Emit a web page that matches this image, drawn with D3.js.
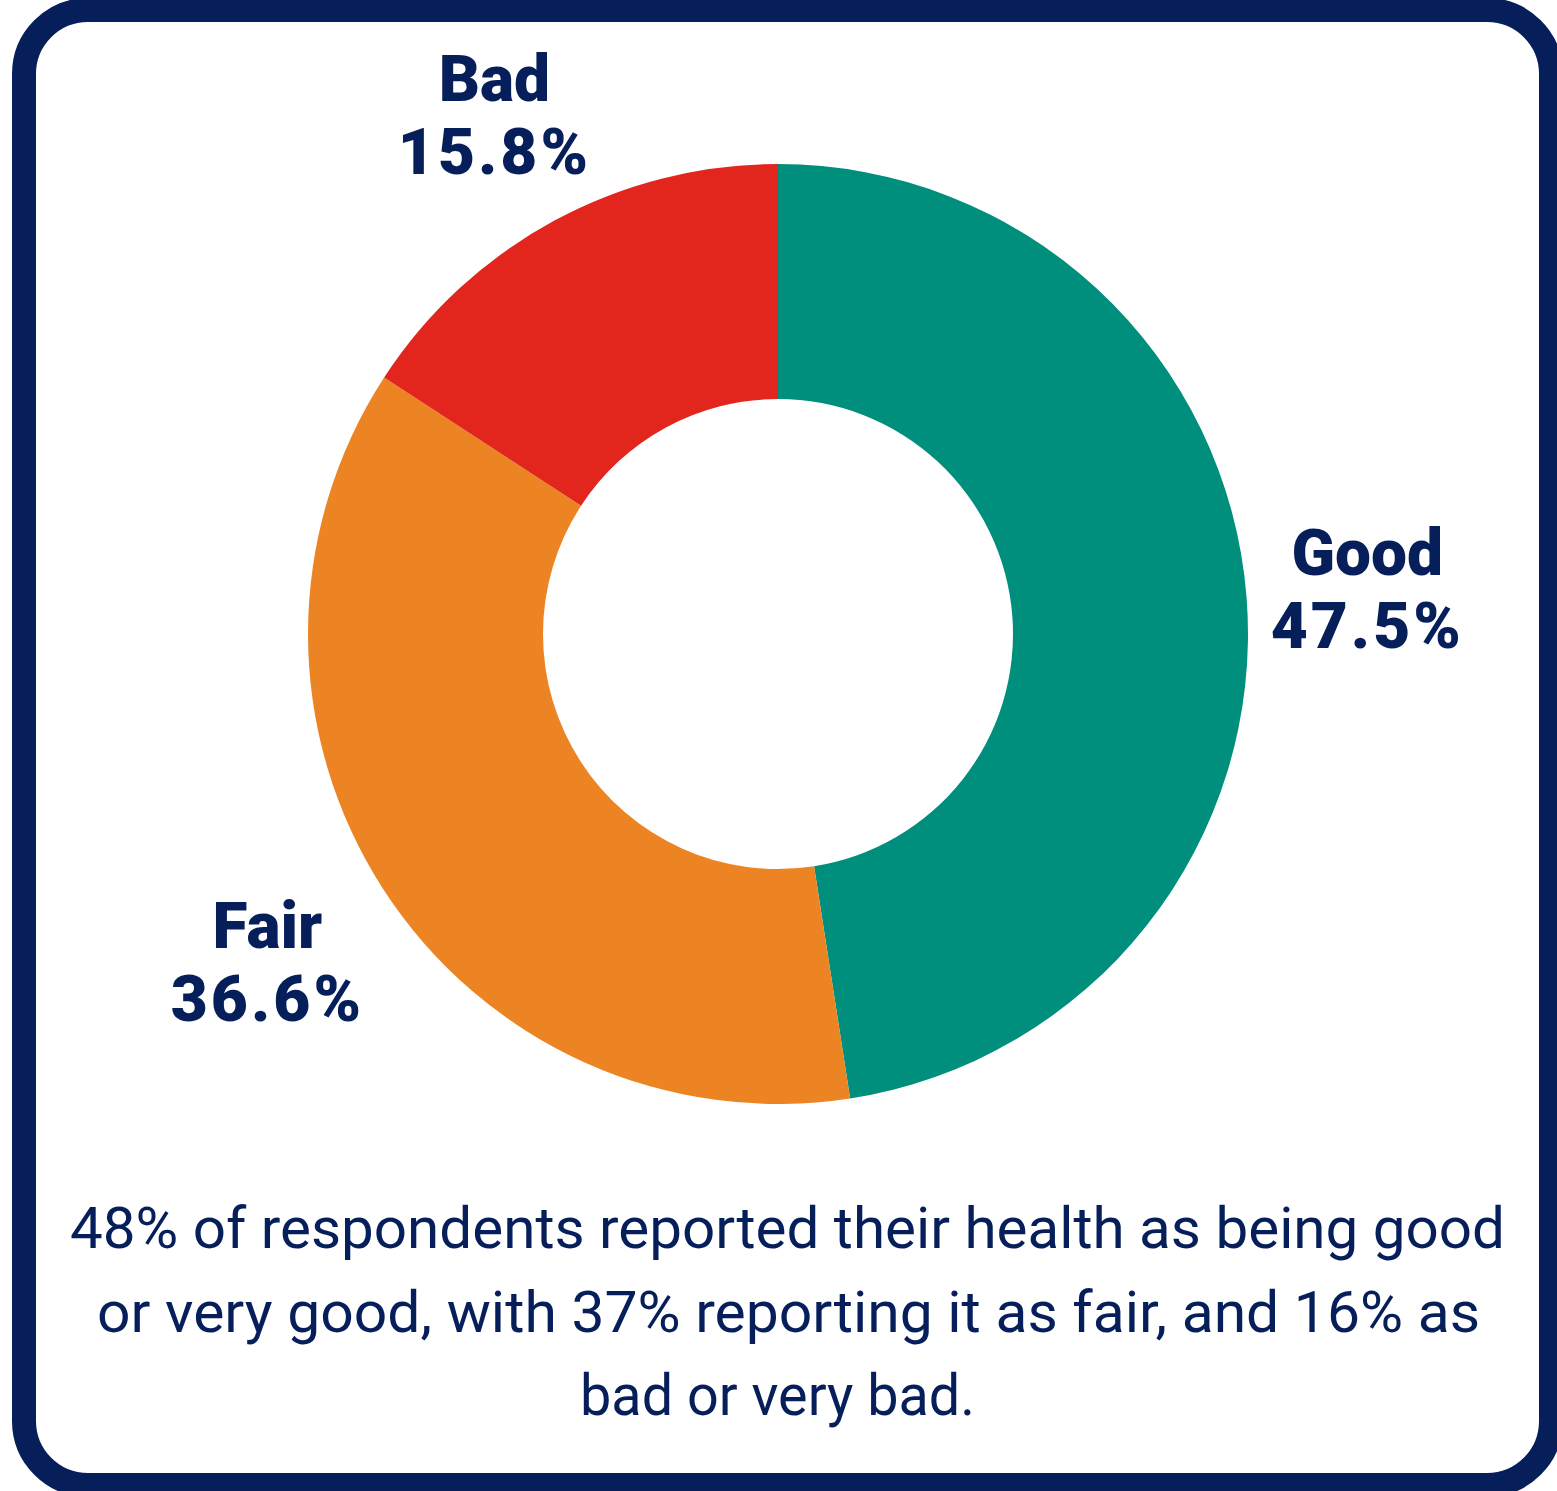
<!DOCTYPE html>
<html>
<head>
<meta charset="utf-8">
<script src="https://cdn.jsdelivr.net/npm/d3@7"></script>
<style>
  html, body { margin: 0; padding: 0; background: #ffffff; }
  svg { display: block; }
</style>
</head>
<body>
<svg id="chart" width="1557" height="1491"></svg>
<script>
// Self-reported health of respondents (percent of all respondents)
const categories = ["Good", "Fair", "Bad"];
const shares = [47.5, 36.6, 15.8];
const valueLabels = ["47.5%", "36.6%", "15.8%"];
const sliceColors = ["#008f7c", "#ec8424", "#e2261e"];
const captionLines = [
  "48% of respondents reported their health as being good",
  "or very good, with 37% reporting it as fair, and 16% as",
  "bad or very bad."
];

const navy = "#061f5b";
const cx = 778, cy = 634;
const outerR = 470, innerR = 235, labelR = 595;

const svg = d3.select("#chart");

// Rounded navy frame
svg.append("rect")
  .attr("x", 24).attr("y", 10)
  .attr("width", 1527).attr("height", 1475)
  .attr("rx", 64).attr("ry", 64)
  .attr("fill", "#ffffff")
  .attr("stroke", navy)
  .attr("stroke-width", 24);

const data = categories.map((c, i) => ({ name: c, value: shares[i], label: valueLabels[i], color: sliceColors[i] }));

const pie = d3.pie().value(d => d.value).sort(null);
const arcs = pie(data);
const arc = d3.arc().innerRadius(innerR).outerRadius(outerR);
const labelArc = d3.arc().innerRadius(labelR).outerRadius(labelR);

const g = svg.append("g").attr("transform", `translate(${cx},${cy})`);

g.selectAll("path.slice")
  .data(arcs)
  .join("path")
  .attr("class", "slice")
  .attr("d", arc)
  .attr("fill", d => d.data.color);

// Category name + percentage, stacked and centred outside each slice;
// the lower-left label sits a little further out to clear the ring.
const labelNudge = { Good: [-4, 1], Fair: [-11, 5], Bad: [0, 4] };
const labels = g.selectAll("g.label")
  .data(arcs)
  .join("g")
  .attr("class", "label")
  .attr("transform", d => {
    const [x, y] = labelArc.centroid(d);
    const [nx, ny] = labelNudge[d.data.name] || [0, 0];
    return `translate(${x + nx},${y + ny})`;
  });

const labelFont = "Roboto, 'Noto Sans', sans-serif";
labels.append("text")
  .attr("y", -14)
  .attr("text-anchor", "middle")
  .attr("font-family", labelFont)
  .attr("font-weight", 900)
  .attr("font-size", 64)
  .attr("letter-spacing", 0)
  .attr("fill", navy)
  .text(d => d.data.name);

labels.append("text")
  .attr("y", 59)
  .attr("text-anchor", "middle")
  .attr("font-family", labelFont)
  .attr("font-weight", 900)
  .attr("font-size", 64)
  .attr("letter-spacing", 3)
  .attr("fill", navy)
  .text(d => d.data.label);

// Summary caption below the donut
const captionLeft = [70, 97, 580];
const captionWidth = [1435, 1383, 395];
const captionBase = [1248, 1332, 1415];
svg.append("g").selectAll("text")
  .data(captionLines)
  .join("text")
  .attr("x", (d, i) => captionLeft[i])
  .attr("y", (d, i) => captionBase[i])
  .attr("textLength", (d, i) => captionWidth[i])
  .attr("lengthAdjust", "spacingAndGlyphs")
  .attr("font-family", "Roboto, 'Noto Sans', sans-serif")
  .attr("font-size", 58)
  .attr("fill", navy)
  .text(d => d);
</script>
</body>
</html>
